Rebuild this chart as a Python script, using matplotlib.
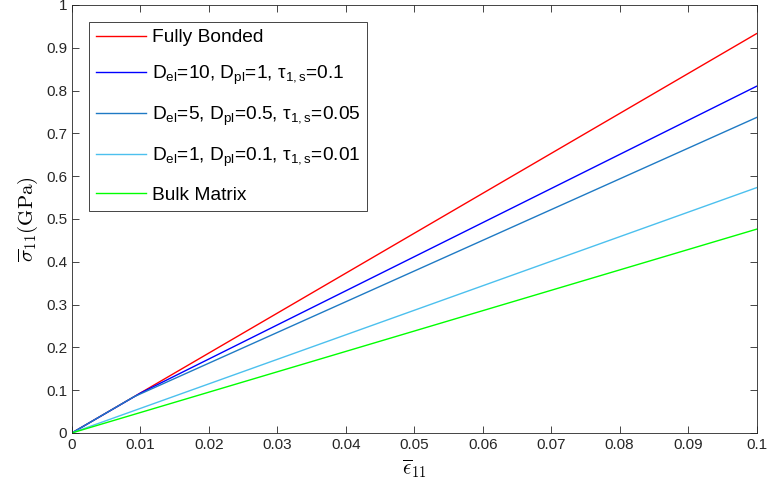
import matplotlib
matplotlib.use('Agg')
import matplotlib.pyplot as plt

plt.rcParams['font.family'] = ['Liberation Sans', 'DejaVu Sans']
plt.rcParams['mathtext.fontset'] = 'custom'
plt.rcParams['mathtext.rm'] = 'Liberation Sans'
plt.rcParams['mathtext.it'] = 'Liberation Sans:italic'
plt.rcParams['mathtext.sf'] = 'Liberation Sans'

# strain / stress data
x_bonded = [0.0, 0.1]
y_bonded = [0.0, 0.933]
x_d10 = [0.0, 0.010, 0.1]
y_d10 = [0.0, 0.093, 0.810]
x_d5 = [0.0, 0.009, 0.1]
y_d5 = [0.0, 0.084, 0.737]
x_d1 = [0.0, 0.1]
y_d1 = [0.0, 0.573]
x_bulk = [0.0, 0.1]
y_bulk = [0.0, 0.476]

labels = ['Fully Bonded',
          r'D$_{\mathrm{el}}$=10, D$_{\mathrm{pl}}$=1, τ$_{\mathrm{1,s}}$=0.1',
          r'D$_{\mathrm{el}}$=5, D$_{\mathrm{pl}}$=0.5, τ$_{\mathrm{1,s}}$=0.05',
          r'D$_{\mathrm{el}}$=1, D$_{\mathrm{pl}}$=0.1, τ$_{\mathrm{1,s}}$=0.01',
          'Bulk Matrix']
colors = ['#ff0000', '#0000ff', '#1f7ac4', '#4cc0ee', '#00ff00']

fig = plt.figure(figsize=(7.7, 4.97), dpi=100)
ax = fig.add_axes([0.0935, 0.129, 0.889, 0.861])

xs = [x_bonded, x_d10, x_d5, x_d1, x_bulk]
ys = [y_bonded, y_d10, y_d5, y_d1, y_bulk]
for x, y, c, lab in zip(xs, ys, colors, labels):
    ax.plot(x, y, color=c, lw=1.0, label=lab)

ax.set_xlim(0, 0.1)
ax.set_ylim(0, 1)
ax.set_xticks([i / 100 for i in range(11)])
ax.set_xticklabels(['0'] + ['%.2f' % (i / 100) for i in range(1, 10)] + ['0.1'])
ax.set_yticks([i / 10 for i in range(11)])
ax.set_yticklabels(['0'] + ['%.1f' % (i / 10) for i in range(1, 10)] + ['1'])
ax.tick_params(direction='in', top=True, right=True, labelsize=11, colors='#262626',
               length=5, width=0.6)
for s in ax.spines.values():
    s.set_color('#262626')
    s.set_linewidth(0.6)

ax.set_xlabel(r'$\overline{\epsilon}_{11}$', fontsize=15, math_fontfamily='cm')
ax.set_ylabel(r'$\overline{\sigma}_{11}(\mathrm{GPa})$', fontsize=15, math_fontfamily='cm')

leg = ax.legend(loc='upper left', fontsize=13.8, frameon=True, fancybox=False,
                edgecolor='#262626', framealpha=1, labelspacing=0.92,
                handlelength=2.6, handletextpad=0.3, borderaxespad=0.9,
                borderpad=0.35)
leg.get_frame().set_linewidth(0.6)

fig.savefig('out.png', dpi=100)
